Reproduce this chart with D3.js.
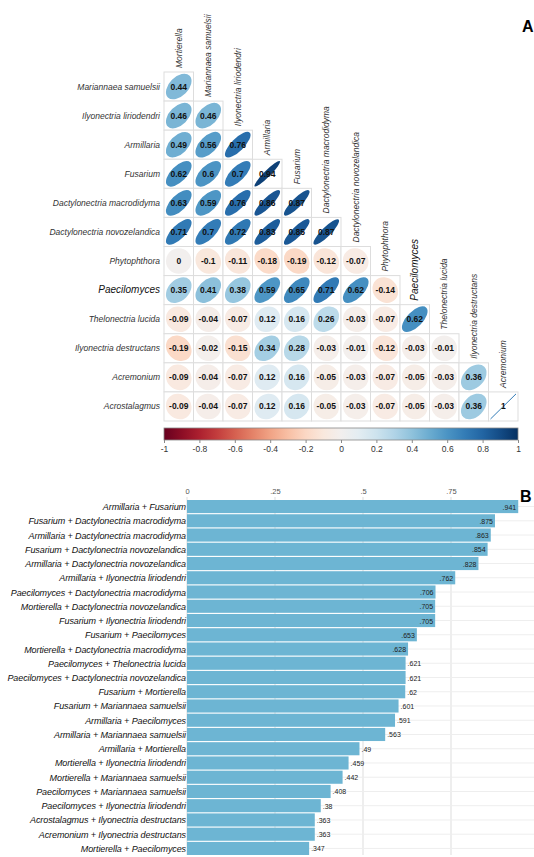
<!DOCTYPE html>
<html><head><meta charset="utf-8">
<script src="https://cdn.jsdelivr.net/npm/d3@7"></script>
<style>body{margin:0;background:#fff}</style>
</head><body>
<svg id="vis" width="534" height="857"></svg>
<script>
const rowNames = ["Mariannaea samuelsii","Ilyonectria liriodendri","Armillaria","Fusarium","Dactylonectria macrodidyma","Dactylonectria novozelandica","Phytophthora","Paecilomyces","Thelonectria lucida","Ilyonectria destructans","Acremonium","Acrostalagmus"];
const colNames = ["Mortierella","Mariannaea samuelsii","Ilyonectria liriodendri","Armillaria","Fusarium","Dactylonectria macrodidyma","Dactylonectria novozelandica","Phytophthora","Paecilomyces","Thelonectria lucida","Ilyonectria destructans","Acremonium"];
const corr = [
	[0.44],
	[0.46,0.46],
	[0.49,0.56,0.76],
	[0.62,0.6,0.7,0.94],
	[0.63,0.59,0.76,0.86,0.87],
	[0.71,0.7,0.72,0.83,0.85,0.87],
	[0,-0.1,-0.11,-0.18,-0.19,-0.12,-0.07],
	[0.35,0.41,0.38,0.59,0.65,0.71,0.62,-0.14],
	[-0.09,-0.04,-0.07,0.12,0.16,0.26,-0.03,-0.07,0.62],
	[-0.19,-0.02,-0.15,0.34,0.28,-0.03,-0.01,-0.12,-0.03,-0.01],
	[-0.09,-0.04,-0.07,0.12,0.16,-0.05,-0.03,-0.07,-0.05,-0.03,0.36],
	[-0.09,-0.04,-0.07,0.12,0.16,-0.05,-0.03,-0.07,-0.05,-0.03,0.36,1]
];
const colorTicks = [-1,-0.8,-0.6,-0.4,-0.2,0,0.2,0.4,0.6,0.8,1];

const pairs = ["Armillaria + Fusarium","Fusarium + Dactylonectria macrodidyma","Armillaria + Dactylonectria macrodidyma","Fusarium + Dactylonectria novozelandica","Armillaria + Dactylonectria novozelandica","Armillaria + Ilyonectria liriodendri","Paecilomyces + Dactylonectria macrodidyma","Mortierella + Dactylonectria novozelandica","Fusarium + Ilyonectria liriodendri","Fusarium + Paecilomyces","Mortierella + Dactylonectria macrodidyma","Paecilomyces + Thelonectria lucida","Paecilomyces + Dactylonectria novozelandica","Fusarium + Mortierella","Fusarium + Mariannaea samuelsii","Armillaria + Paecilomyces","Armillaria + Mariannaea samuelsii","Armillaria + Mortierella","Mortierella + Ilyonectria liriodendri","Mortierella + Mariannaea samuelsii","Paecilomyces + Mariannaea samuelsii","Paecilomyces + Ilyonectria liriodendri","Acrostalagmus + Ilyonectria destructans","Acremonium + Ilyonectria destructans","Mortierella + Paecilomyces"];
const pairValues = [0.941,0.875,0.863,0.854,0.828,0.762,0.706,0.705,0.705,0.653,0.628,0.621,0.621,0.62,0.601,0.591,0.563,0.49,0.459,0.442,0.408,0.38,0.363,0.363,0.347];
const barTicks = [0,0.25,0.5,0.75];

const svg = d3.select("svg#vis");
const color = v => d3.interpolateRdBu((v + 1) / 2);
const fmt = v => String(v).replace(/^0\./, ".");

// ---- panel A: correlation matrix
const x = d3.scaleBand().domain(colNames).range([164, 518]);
const y = d3.scaleBand().domain(rowNames).range([72, 421]);
const cw = x.bandwidth(), ch = y.bandwidth();
const gA = svg.append("g");

const cells = [];
corr.forEach((row, i) => row.forEach((v, j) => cells.push({r: rowNames[i], c: colNames[j], v})));

const cell = gA.selectAll("g.cell").data(cells).join("g")
	.attr("transform", d => `translate(${x(d.c)} ${y(d.r)})`);
cell.append("rect").attr("width", cw).attr("height", ch)
	.attr("fill", "#fff").attr("stroke", "#ddd").attr("stroke-width", 1);
const rad = 12.8;
cell.filter(d => d.v < 1).append("ellipse")
	.attr("cx", cw / 2).attr("cy", ch / 2)
	.attr("rx", d => rad * Math.sqrt(1 + Math.abs(d.v)))
	.attr("ry", d => rad * Math.sqrt(1 - Math.abs(d.v)))
	.attr("transform", d => `rotate(${d.v >= 0 ? -45 : 45} ${cw / 2} ${ch / 2})`)
	.attr("fill", d => color(d.v));
cell.filter(d => d.v === 1).append("line")
	.attr("x1", 2).attr("y1", ch - 2).attr("x2", cw - 2).attr("y2", 2)
	.attr("stroke", color(0.7)).attr("stroke-width", 1);
cell.append("text").attr("x", cw / 2).attr("y", ch / 2 + 3)
	.attr("text-anchor", "middle").attr("font-family", "Arial, Liberation Sans")
	.attr("font-size", 8.5).attr("font-weight", "bold").attr("fill", "#111")
	.text(d => d.v);

gA.selectAll("text.row").data(rowNames).join("text")
	.attr("x", 160).attr("y", d => y(d) + ch / 2 + 3)
	.attr("text-anchor", "end").attr("font-family", "Arial, Liberation Sans")
	.attr("font-style", "italic").attr("font-size", d => d === "Paecilomyces" ? 10 : 8.5)
	.attr("fill", d => d === "Paecilomyces" ? "#111" : "#333").text(d => d);

gA.selectAll("text.col").data(colNames).join("text")
	.attr("transform", (d, i) => `translate(${x(d) + cw / 2 + 3} ${y(rowNames[i]) - 4}) rotate(-90)`)
	.attr("font-family", "Arial, Liberation Sans").attr("font-style", "italic")
	.attr("font-size", d => d === "Paecilomyces" ? 10 : 8.5)
	.attr("fill", d => d === "Paecilomyces" ? "#111" : "#333").text(d => d);

// colour bar
const cb = d3.scaleLinear().domain([-1, 1]).range([164, 518]);
const grad = svg.append("defs").append("linearGradient").attr("id", "rdbu");
d3.range(0, 1.001, 0.05).forEach(t => grad.append("stop")
	.attr("offset", t).attr("stop-color", color(t * 2 - 1)));
gA.append("rect").attr("x", cb(-1)).attr("y", 428).attr("width", cb(1) - cb(-1)).attr("height", 12)
	.attr("fill", "url(#rdbu)").attr("stroke", "#888").attr("stroke-width", 0.8);
gA.append("g").attr("transform", "translate(0 440)")
	.call(d3.axisBottom(cb).tickValues(colorTicks).tickSize(3).tickFormat(d => d))
	.call(g => g.select(".domain").remove())
	.call(g => g.selectAll("line").attr("stroke", "#888"))
	.call(g => g.selectAll("text").attr("font-family", "Arial, Liberation Sans")
		.attr("font-size", 8.5).attr("fill", "#333"));

svg.append("text").attr("x", 522).attr("y", 32).attr("font-family", "Arial, Liberation Sans")
	.attr("font-weight", "bold").attr("font-size", 16).text("A");

// ---- panel B: bar chart
const bx = d3.scaleLinear().domain([0, 1]).range([187, 539]);
const by = d3.scaleBand().domain(pairs).range([500, 855]).paddingInner(0.08);
const gB = svg.append("g");
gB.selectAll("line.grid").data(barTicks.concat([1])).join("line")
	.attr("x1", d => bx(d)).attr("x2", d => bx(d)).attr("y1", 497).attr("y2", 855)
	.attr("stroke", "#ddd");
gB.selectAll("line.hgrid").data(pairs).join("line")
	.attr("x1", 187).attr("x2", 534).attr("y1", d => by(d) + by.bandwidth() / 2)
	.attr("y2", d => by(d) + by.bandwidth() / 2).attr("stroke", "#eee");
gB.append("g").attr("transform", "translate(0 497)")
	.call(d3.axisTop(bx).tickValues(barTicks).tickSize(0).tickFormat(d => d === 0 ? "0" : fmt(d)))
	.call(g => g.select(".domain").remove())
	.call(g => g.selectAll("text").attr("font-family", "Arial, Liberation Sans")
		.attr("font-size", 7.5).attr("fill", "#555"));
gB.selectAll("rect.bar").data(pairValues).join("rect")
	.attr("x", bx(0)).attr("y", (d, i) => by(pairs[i]))
	.attr("width", d => bx(d) - bx(0)).attr("height", by.bandwidth())
	.attr("fill", "#6db5d3");
gB.selectAll("text.val").data(pairValues).join("text")
	.attr("x", d => d >= 0.625 ? bx(d) - 2 : bx(d) + 2)
	.attr("y", (d, i) => by(pairs[i]) + by.bandwidth() / 2 + 3)
	.attr("text-anchor", d => d >= 0.625 ? "end" : "start")
	.attr("font-family", "Arial, Liberation Sans").attr("font-size", 7).attr("fill", "#222")
	.text(d => fmt(d));
gB.selectAll("text.lab").data(pairs).join("text")
	.attr("x", 186).attr("y", d => by(d) + by.bandwidth() / 2 + 3.5)
	.attr("text-anchor", "end").attr("font-family", "Arial, Liberation Sans")
	.attr("font-style", "italic").attr("font-size", 9).attr("letter-spacing", -0.1).attr("fill", "#111")
	.text(d => d);
svg.append("text").attr("x", 520).attr("y", 502).attr("font-family", "Arial, Liberation Sans")
	.attr("font-weight", "bold").attr("font-size", 16).text("B");
</script>
</body></html>
